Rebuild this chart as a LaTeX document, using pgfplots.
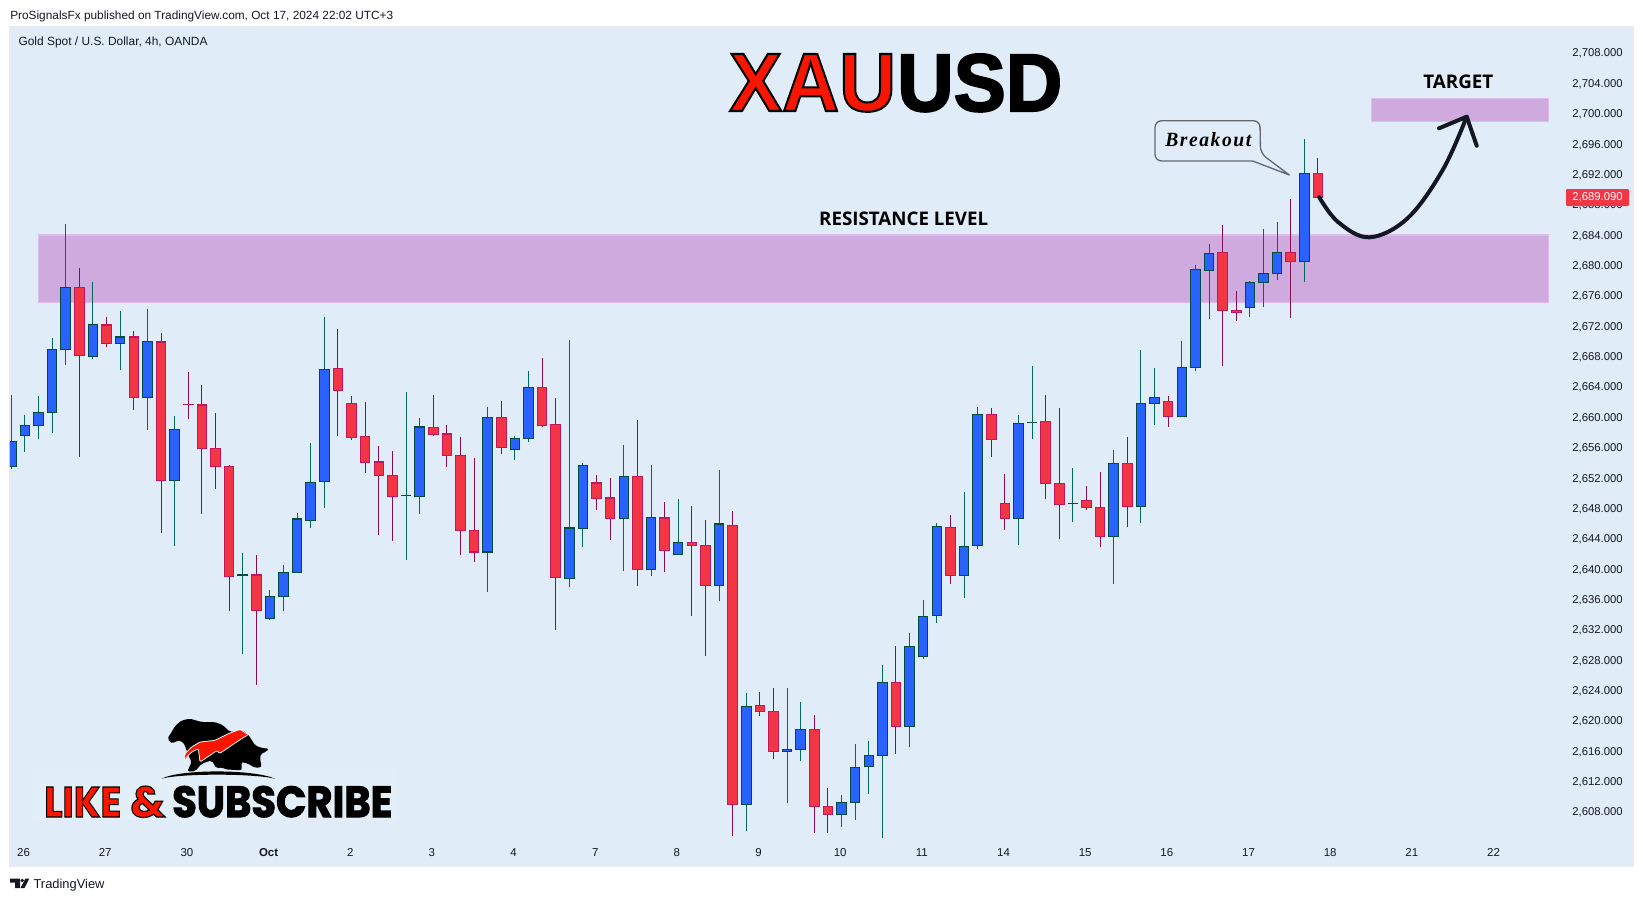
\documentclass[border=0pt]{standalone}
\usepackage{graphicx}
\usepackage{fontspec}
\usepackage{pgfplots}
\usepackage{pgfplotstable}
\pgfplotsset{compat=1.18}
\setmainfont{Liberation Sans}
\newfontfamily\callfont[LetterSpace=8]{Liberation Serif}
\newfontfamily\heavyfont[BoldFeatures={FakeBold=2.5}]{Poppins}
\newfontfamily\headfont[BoldFeatures={FakeBold=2.5}]{Liberation Sans}
\newfontfamily\labelfont{Open Sans}

\definecolor{panel}{HTML}{E0EDF8}
\definecolor{panelline}{HTML}{E8ECF2}
\definecolor{zonefill}{HTML}{CEAADF}
\definecolor{zoneedge}{HTML}{DDBDF0}
\definecolor{upbody}{HTML}{2962FF}
\definecolor{upedge}{HTML}{004D40}
\definecolor{upwick}{HTML}{00695C}
\definecolor{dnbody}{HTML}{F23645}
\definecolor{dnedge}{HTML}{C2185B}
\definecolor{dnwick}{HTML}{880E4F}
\definecolor{ink}{HTML}{131722}
\definecolor{logored}{HTML}{F81600}

% i high top bottom low
\pgfplotstableread{
i h t b l
0 2662.89 2656.78 2653.45 2653.18
1 2660.25 2658.89 2657.57 2655.42
2 2662.76 2660.60 2658.89 2657.13
3 2670.40 2668.90 2660.60 2657.92
4 2685.42 2677.07 2668.90 2666.88
6 2677.78 2672.20 2667.98 2667.67
8 2673.95 2670.49 2669.69 2666.22
10 2674.22 2669.96 2662.58 2658.32
12 2660.12 2658.36 2651.64 2643.04
17 2642.07 2639.13 2639.13 2628.81
19 2637.20 2636.36 2633.46 2633.29
20 2640.49 2639.52 2636.36 2634.47
21 2647.34 2646.51 2639.52 2639.52
22 2656.56 2651.38 2646.37 2645.41
23 2673.16 2666.27 2651.51 2648.04
29 2663.28 2649.67 2649.67 2641.19
30 2659.86 2658.63 2649.54 2647.25
35 2661.28 2659.92 2642.22 2636.95
37 2657.47 2657.14 2655.73 2654.36
38 2666.03 2663.87 2657.19 2656.72
41 2670.13 2645.33 2638.74 2637.52
42 2653.94 2653.61 2645.33 2642.79
45 2656.29 2652.15 2646.65 2639.73
47 2653.66 2646.74 2639.92 2639.07
49 2649.19 2643.45 2641.89 2641.89
52 2653.00 2645.85 2637.80 2635.78
54 2623.62 2621.86 2608.95 2605.48
57 2624.28 2616.20 2615.93 2609.17
58 2622.43 2618.83 2616.20 2614.70
61 2610.18 2609.21 2607.63 2606.01
62 2616.90 2613.82 2609.21 2606.93
63 2617.29 2615.41 2613.96 2610.35
64 2627.31 2625.02 2615.41 2604.56
66 2631.52 2629.77 2619.23 2616.55
67 2635.87 2633.72 2628.45 2628.14
68 2646.02 2645.58 2633.85 2632.89
70 2650.10 2642.94 2639.12 2636.18
71 2661.30 2660.34 2643.08 2642.64
74 2660.25 2659.15 2646.63 2643.16
75 2666.70 2659.24 2659.24 2657.13
78 2653.26 2648.61 2648.61 2646.19
81 2655.64 2653.88 2644.26 2638.02
83 2668.82 2661.79 2648.22 2646.06
84 2666.44 2662.58 2661.79 2658.98
86 2670.00 2666.53 2660.07 2660.07
87 2680.01 2679.44 2666.53 2666.09
88 2682.78 2681.55 2679.31 2672.94
91 2677.91 2677.73 2674.44 2673.21
92 2684.76 2678.92 2677.73 2674.53
93 2685.68 2681.68 2678.92 2678.04
95 2696.62 2692.09 2680.50 2677.82
}\upbars

\pgfplotstableread{
i h t b l
5 2679.62 2677.07 2668.11 2654.76
7 2673.16 2672.07 2669.69 2669.25
9 2671.32 2670.49 2662.58 2660.95
11 2671.06 2669.83 2651.64 2644.75
13 2665.92 2661.61 2661.61 2659.77
14 2664.20 2661.53 2655.86 2647.25
15 2660.52 2655.86 2653.49 2650.55
16 2653.66 2653.49 2639.00 2634.47
18 2641.81 2639.13 2634.52 2624.72
24 2671.58 2666.40 2663.50 2657.53
25 2662.76 2661.79 2657.31 2657.00
26 2661.97 2657.44 2654.02 2652.65
27 2656.17 2654.02 2652.30 2644.49
28 2655.51 2652.30 2649.54 2643.70
31 2662.88 2658.60 2657.71 2657.52
32 2658.93 2657.71 2654.93 2653.33
33 2657.33 2654.93 2645.05 2641.85
34 2654.60 2645.05 2642.22 2640.91
36 2662.08 2659.92 2656.01 2655.16
39 2667.78 2663.87 2658.88 2658.69
40 2662.51 2659.02 2638.88 2631.96
43 2652.34 2651.26 2649.28 2647.78
44 2651.96 2649.28 2646.65 2643.82
46 2659.59 2652.15 2639.92 2637.75
48 2648.76 2646.65 2642.41 2639.59
50 2648.25 2643.45 2643.02 2633.80
51 2646.41 2643.07 2637.80 2628.53
53 2647.60 2645.71 2608.95 2604.82
55 2623.75 2621.99 2621.20 2620.63
56 2624.28 2621.20 2615.93 2614.97
59 2620.72 2618.83 2608.69 2605.22
60 2611.10 2608.69 2607.63 2605.22
65 2629.81 2625.02 2619.23 2615.63
69 2647.07 2645.45 2639.12 2638.02
72 2661.17 2660.34 2657.04 2654.76
73 2652.47 2648.61 2646.63 2645.14
76 2662.88 2659.41 2651.24 2649.22
77 2661.17 2651.24 2648.48 2643.95
79 2650.89 2649.00 2648.08 2647.77
80 2652.74 2648.08 2644.26 2642.90
82 2657.35 2653.88 2648.22 2645.54
85 2662.75 2662.05 2660.07 2658.71
89 2685.29 2681.68 2674.04 2666.75
90 2676.59 2674.04 2673.78 2672.68
94 2688.71 2681.68 2680.50 2673.08
96 2694.11 2692.09 2688.93 2688.93
}\dnbars

% sizes are given in page pixels
\newcommand{\px}[1]{\dimexpr#1pt*3/4\relax}
\newcommand{\fitw}[2]{\resizebox{\px{#1}}{!}{#2}}
% red fill, black stroke: the stroke shows on FakeBold fonts
\newcommand{\redblack}[1]{\special{pdf:bc [0.973 0.086 0] [0 0 0]}#1\special{pdf:ec}}
% big lettering: x, y(base), width, height, text
\newcommand{\bigtext}[5]{\node[anchor=base west,inner sep=0pt,text=black] at (#1,#2) {\resizebox{\px{#3}}{\px{#4}}{#5}};}

\begin{document}
\begin{tikzpicture}
\path[use as bounding box] (0pt,0pt) rectangle (1232.25pt,-675.75pt);
\begin{axis}[
  at={(7.5pt,-649.5pt)}, anchor=south west,
  scale only axis, width=1217.25pt, height=629.5pt,
  xmin=-0.096, xmax=119.15, ymin=2600.82, ymax=2711.41,
  axis background/.style={fill=panel},
  axis line style={draw=panelline,line width=1pt},
  major tick length=0pt,
  xtick={1,7,13,19,25,31,37,43,49,55,61,67,73,79,85,91,97,103,109},
  xticklabels={26,27,30,\textbf{Oct},2,3,4,7,8,9,10,11,14,15,16,17,18,21,22},
  xticklabel style={anchor=base,inner sep=0pt,xshift=-1pt,yshift=7.2pt,font=\fontsize{8.6}{10}\selectfont,text=ink},
  ytick={2608,2612,...,2708},
  ytick pos=right, yticklabel pos=right,
  yticklabel style={anchor=east,inner sep=0pt,xshift=-7.5pt,yshift=-0.9pt,font=\fontsize{8.5}{10}\selectfont,text=ink,
    /pgf/number format/.cd,fixed,fixed zerofill,precision=3,1000 sep={,},assume math mode=true},
]
% zones
\addplot[fill=zonefill,draw=zoneedge,line width=0.9pt] coordinates {(1.98,2675.1)(112.94,2675.1)(112.94,2683.96)(1.98,2683.96)} -- cycle;
\addplot[fill=zonefill,draw=zoneedge,line width=0.9pt] coordinates {(99.95,2698.95)(112.94,2698.95)(112.94,2701.98)(99.95,2701.98)} -- cycle;
% wicks
\addplot[quiver={u=0,v=\thisrow{h}-\thisrow{l}},upwick,line width=0.75pt] table[x=i,y=l] {\upbars};
\addplot[quiver={u=0,v=\thisrow{h}-\thisrow{l}},dnwick,line width=0.75pt] table[x=i,y=l] {\dnbars};
% bodies: border then fill
\addplot[quiver={u=0,v=\thisrow{t}-\thisrow{b}+0.2},upedge,line width=7.9pt] table[x=i,y expr=\thisrow{b}-0.1] {\upbars};
\addplot[quiver={u=0,v=\thisrow{t}-\thisrow{b}+0.2},dnedge,line width=7.9pt] table[x=i,y expr=\thisrow{b}-0.1] {\dnbars};
\addplot[quiver={u=0,v={max(\thisrow{t}-\thisrow{b}-0.1,0)}},upbody,line width=6.4pt] table[x=i,y expr=\thisrow{b}+0.05] {\upbars};
\addplot[quiver={u=0,v={max(\thisrow{t}-\thisrow{b}-0.1,0)}},dnbody,line width=6.4pt] table[x=i,y expr=\thisrow{b}+0.05] {\dnbars};
\end{axis}

\begin{scope}[x=0.75pt,y=-0.75pt]
% header and footer text
\node[anchor=west,inner sep=0pt,text=ink] at (10,16) {\fitw{383}{\fontsize{9}{11}\selectfont ProSignalsFx published on TradingView.com, Oct 17, 2024 22:02 UTC+3}};
\node[anchor=west,inner sep=0pt,text=ink] at (18.3,42.5) {\fitw{189}{\fontsize{9}{11}\selectfont Gold Spot / U.S. Dollar, 4h, OANDA}};
\node[anchor=west,inner sep=0pt,text=ink] at (33.3,885) {\fitw{71}{\fontsize{10}{12}\selectfont TradingView}};
\fill[ink] (10,878.5) -- (20,878.5) -- (20,888) -- (15,888) -- (15,882.5) -- (10,882.5) -- cycle;
\fill[ink] (22.3,880.5) circle (1.9);
\fill[ink] (25.5,878.5) -- (29.3,878.5) -- (24.5,888) -- (20.5,888) -- cycle;

% headline
\bigtext{729}{111}{167}{57}{\headfont\bfseries\redblack{XAU}}
\bigtext{897}{111}{165}{57}{\headfont\bfseries USD}

% zone labels
\node[inner sep=0pt,text=black] at (903.7,218.8) {\fitw{169}{\labelfont\bfseries\fontsize{13}{15}\selectfont RESISTANCE LEVEL}};
\node[inner sep=0pt,text=black] at (1458.3,81.5) {\fitw{70}{\labelfont\bfseries\fontsize{13}{15}\selectfont TARGET}};

% callout
\draw[color=ink!65,line width=1pt,line join=round] (1200,120.7) [rounded corners=5pt] -- (1260,120.7) -- (1260.5,153.3) [sharp corners] -- (1289.3,175) -- (1252.7,161) [rounded corners=5pt] -- (1155,161) -- (1155,120.7) -- cycle;
\bigtext{1165}{146.5}{86}{14}{\callfont\bfseries\itshape Breakout}

% hand drawn arrow
\draw[color=ink,line width=3pt,line cap=round,line join=round] plot[smooth,tension=0.6] coordinates {(1319.3,197.3)(1338,222)(1369.4,237.3)(1407.5,218.3)(1442.7,170)(1466.7,116.7)};
\draw[color=ink,line width=3pt,line cap=round,line join=round] (1439,128.3) -- (1466.7,116.7) -- (1476.7,145.7);

% last price tag
\fill[dnbody,rounded corners=0.8pt] (1566,189) rectangle (1629,206);
\node[anchor=east,inner sep=0pt,text=white] at (1623,197.5) {\fontsize{8.5}{10}\selectfont 2,689.090};

% glow behind the logo lettering
\fill[panel!93!white] (32,768) rectangle (398,820);
\end{scope}

% logo, coordinates in 3x crop units of the reference
\begin{scope}[shift={(120pt,-534pt)},x=0.25pt,y=-0.25pt]
\fill[black,rounded corners=1.5pt] (22,80) -- (35,60) -- (45,42) -- (65,25) -- (90,20) -- (125,30) -- (165,30) -- (190,40) -- (210,60) -- (250,55) -- (268,72) -- (285,100) -- (305,108) -- (327,110) -- (318,120) -- (302,125) -- (300,140) -- (305,165) -- (285,168) -- (265,155) -- (245,150) -- (245,175) -- (195,172) -- (185,165) -- (170,170) -- (155,145) -- (125,155) -- (105,178) -- (82,178) -- (95,150) -- (85,130) -- (78,110) -- (70,90) -- (50,85) -- (40,95) -- (30,90) -- cycle;
\fill[logored,draw=panel!40!white,line width=0.6pt,rounded corners=1pt] (72,155) -- (75,125) -- (95,105) -- (120,90) -- (165,85) -- (205,65) -- (240,52) -- (265,68) -- (245,80) -- (178,125) -- (172,115) -- (120,150) -- (115,110) -- (95,120) -- (80,135) -- cycle;
\fill[black] (5,200) .. controls (60,171) and (280,171) .. (345,200) .. controls (280,184) and (60,184) .. (5,200) -- cycle;
\end{scope}
\begin{scope}[x=0.75pt,y=-0.75pt]
\bigtext{44}{817}{77}{30}{\heavyfont\bfseries\redblack{LIKE}}
\bigtext{130}{817}{35}{31}{\heavyfont\bfseries\redblack{\&}}
\bigtext{172}{817}{220}{31}{\heavyfont\bfseries SUBSCRIBE}
\end{scope}
\end{tikzpicture}
\end{document}
